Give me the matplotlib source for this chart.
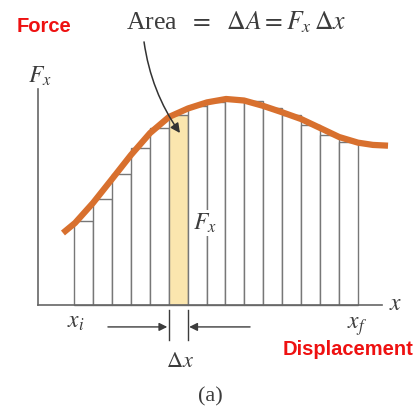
import matplotlib.pyplot as plt
import numpy as np

plt.rcParams['mathtext.fontset'] = 'stix'
plt.rcParams['font.family'] = ['Liberation Serif', 'DejaVu Serif']

# Rectangles under the force curve (one per slice of width dx)
dx = 1.0
x_start = 1.92
heights = [4.46, 5.61, 6.93, 8.29, 9.35, 10.05, 10.54, 10.72, 10.90,
           10.79, 10.44, 10.05, 9.52, 8.99, 8.61]
highlight = 5

# Smooth force curve F_x(x), sampled points
curve_x = [1.32, 1.96, 2.91, 3.92, 4.92, 5.93, 6.93, 7.94, 8.94, 9.95,
           10.90, 11.90, 12.91, 13.92, 14.92, 15.93, 16.93, 17.72, 18.52]
curve_y = [3.81, 4.34, 5.40, 6.67, 7.94, 9.10, 9.95, 10.40, 10.72, 10.90,
           10.82, 10.54, 10.20, 9.84, 9.37, 8.89, 8.59, 8.47, 8.43]

ink = '#3c3c3c'
edge = '#777777'

fig = plt.figure(figsize=(4.18, 4.07), dpi=100)
ax = fig.add_axes([0, 0, 1, 1])
ax.set_xlim(-2.011, 20.106)
ax.set_ylim(-5.397, 16.138)
ax.axis('off')

lefts = x_start + dx * np.arange(len(heights))
colors = ['#fbe6ae' if i == highlight else 'white' for i in range(len(heights))]
ax.bar(lefts, heights, width=dx, align='edge', color=colors,
       edgecolor=edge, linewidth=1.0, zorder=2)

ax.plot(curve_x, curve_y, color='#d8702e', lw=4.5, solid_capstyle='butt',
        solid_joinstyle='round', zorder=3)

# axes
ax.plot([0, 0], [0, 11.43], color='#666666', lw=1.2, zorder=4)
ax.plot([0, 18.2], [0, 0], color='#666666', lw=1.2, zorder=4)

# labels
ax.text(0.11, 11.75, r'$F_x$', fontsize=17, color=ink, ha='center', va='baseline')
ax.text(18.94, 0.05, r'$x$', fontsize=17, color=ink, ha='center', va='center')
ax.text(2.01, -1.22, r'$x_i$', fontsize=17, color=ink, ha='center', va='baseline')
ax.text(16.88, -1.27, r'$x_f$', fontsize=17, color=ink, ha='center', va='baseline')
ax.text(8.84, 4.0, r'$F_x$', fontsize=17, color=ink, ha='center', va='baseline',
        zorder=5, bbox=dict(facecolor='white', edgecolor='none', pad=1))
ax.text(10.48, 14.6, r'Area  $=$  $\Delta A = F_x\,\Delta x$', fontsize=18.5,
        color=ink, ha='center', va='baseline')
ax.text(7.51, -3.26, r'$\Delta x$', fontsize=16, color=ink, ha='center',
        va='baseline')
ax.text(9.10, -5.1, '(a)', fontsize=16, color=ink, ha='center', va='baseline')

# dx marker
x0 = lefts[highlight]
x1 = x0 + dx
for xm in (x0, x1):
    ax.plot([xm, xm], [-0.26, -1.85], color=ink, lw=1.0)
ax.annotate('', xy=(x0 - 0.08, -1.16), xytext=(3.70, -1.16),
            arrowprops=dict(arrowstyle='-|>', color=ink, lw=1.0,
                            mutation_scale=12, shrinkA=0, shrinkB=0))
ax.annotate('', xy=(x1 + 0.08, -1.16), xytext=(11.22, -1.16),
            arrowprops=dict(arrowstyle='-|>', color=ink, lw=1.0,
                            mutation_scale=12, shrinkA=0, shrinkB=0))

# pointer from the area formula to the highlighted strip
ax.annotate('', xy=(7.51, 9.10), xytext=(5.61, 13.92),
            arrowprops=dict(arrowstyle='-|>', color='#333333', lw=1.1,
                            mutation_scale=14, shrinkA=0, shrinkB=0,
                            connectionstyle='arc3,rad=0.12'), zorder=6)

ax.text(0.32, 14.76, 'Force', fontsize=14.5, color='#ee1111', fontweight='bold',
        family='Liberation Sans', ha='center', va='center')
ax.text(16.40, -2.38, 'Displacement', fontsize=14.5, color='#ee1111',
        fontweight='bold', family='Liberation Sans', ha='center', va='center')

fig.savefig('out.png', dpi=100)
